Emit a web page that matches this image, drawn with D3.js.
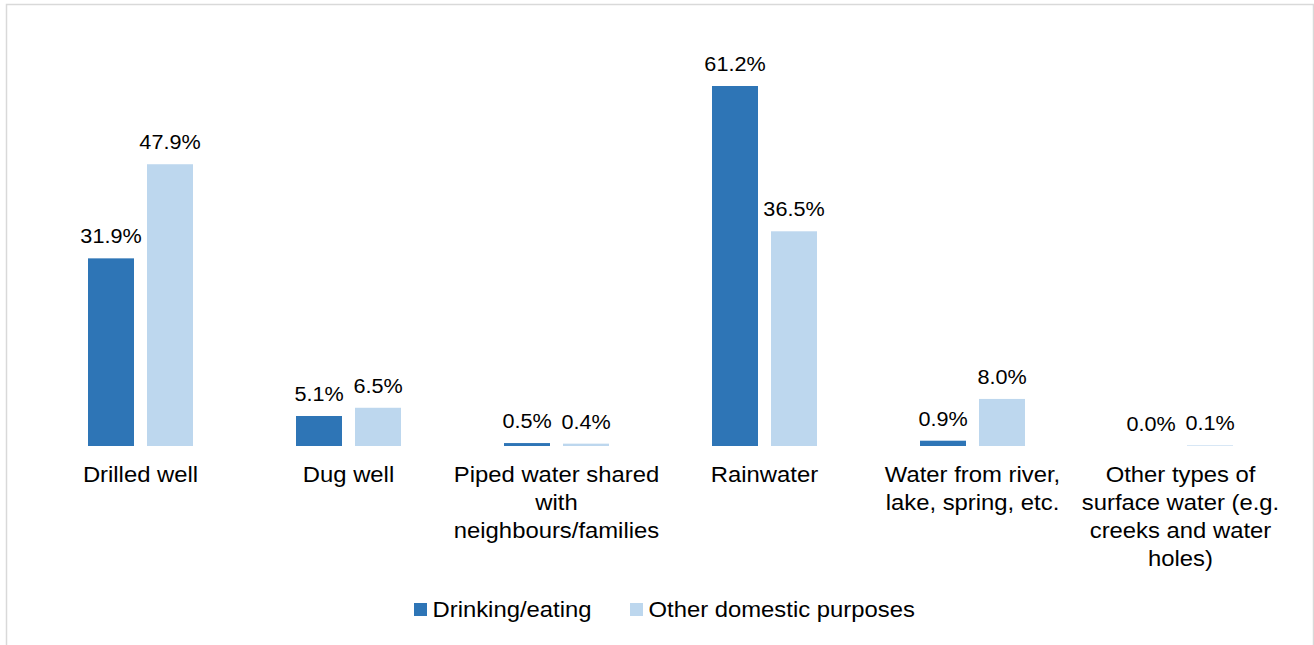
<!DOCTYPE html>
<html>
<head>
<meta charset="utf-8">
<script src="https://cdn.jsdelivr.net/npm/d3@7"></script>
<style>
  html, body { margin: 0; padding: 0; background: #fff; }
  svg { display: block; }
  text { font-family: "Liberation Sans", Arial, sans-serif; fill: #000; }
</style>
</head>
<body>
<svg id="chart" width="1314" height="645"></svg>
<script>
// Water sources, one entry per group; "\n" marks a line break in the axis label
const categories = [
  "Drilled well",
  "Dug well",
  "Piped water shared\nwith\nneighbours/families",
  "Rainwater",
  "Water from river,\nlake, spring, etc.",
  "Other types of\nsurface water (e.g.\ncreeks and water\nholes)"
];
const seriesNames = ["Drinking/eating", "Other domestic purposes"];
const drinkingEating = [31.9, 5.1, 0.5, 61.2, 0.9, 0.0];
const otherDomestic = [47.9, 6.5, 0.4, 36.5, 8.0, 0.1];
const seriesColors = ["#2e75b6", "#bdd7ee"];

const svg = d3.select("#chart");
const W = 1314, H = 645;
const stretch = 1.06; // text is set slightly wide

// outer frame
svg.append("path")
  .attr("d", `M6.5,${H + 5}V4.5H1313.5V${H + 5}`)
  .attr("fill", "none")
  .attr("stroke", "#d9d9d9")
  .attr("stroke-width", 1.5);

const baseY = 446;
const y = d3.scaleLinear().domain([0, 61.2]).range([baseY, 86]);

const x0 = d3.scaleBand().domain(categories).range([36.5, 1284.5]).padding(0);
const x1 = d3.scaleBand().domain(seriesNames)
  .range([51.5, x0.bandwidth() - 51.5])
  .paddingInner(13 / 59).paddingOuter(0);

const rows = categories.map((c, i) => ({
  cat: c,
  vals: [
    { s: seriesNames[0], v: drinkingEating[i] },
    { s: seriesNames[1], v: otherDomestic[i] }
  ]
}));

const color = d3.scaleOrdinal().domain(seriesNames).range(seriesColors);

const g = svg.selectAll("g.group").data(rows).join("g")
  .attr("class", "group")
  .attr("transform", d => `translate(${x0(d.cat)},0)`);

g.selectAll("rect").data(d => d.vals).join("rect")
  .attr("x", d => x1(d.s))
  .attr("y", d => y(d.v))
  .attr("width", x1.bandwidth())
  .attr("height", d => baseY - y(d.v))
  .attr("fill", d => color(d.s));

g.selectAll("text.val").data(d => d.vals).join("text")
  .attr("class", "val")
  .attr("text-anchor", "middle")
  .attr("transform", d => `translate(${x1(d.s) + x1.bandwidth() / 2},${y(d.v) - 15}) scale(1.03,1)`)
  .style("font-size", "21px")
  .text(d => d.v.toFixed(1) + "%");

// category labels below the baseline
const lab = g.append("text")
  .attr("class", "cat")
  .attr("text-anchor", "middle")
  .style("font-size", "22.5px")
  .attr("transform", `translate(${x0.bandwidth() / 2},${baseY + 36}) scale(${stretch},1)`);
lab.selectAll("tspan").data(d => d.cat.split("\n")).join("tspan")
  .attr("x", 0)
  .attr("y", (d, i) => i * 28)
  .text(d => d);

// legend
const legendItems = [
  { s: seriesNames[0], x: 414 },
  { s: seriesNames[1], x: 630 }
];
const lg = svg.selectAll("g.legend").data(legendItems).join("g")
  .attr("class", "legend")
  .attr("transform", d => `translate(${d.x},603)`);
lg.append("rect")
  .attr("width", 13).attr("height", 13)
  .attr("fill", d => color(d.s));
lg.append("text")
  .attr("transform", `translate(18.5,13.7) scale(${stretch},1)`)
  .style("font-size", "22.5px")
  .text(d => d.s);
</script>
</body>
</html>
